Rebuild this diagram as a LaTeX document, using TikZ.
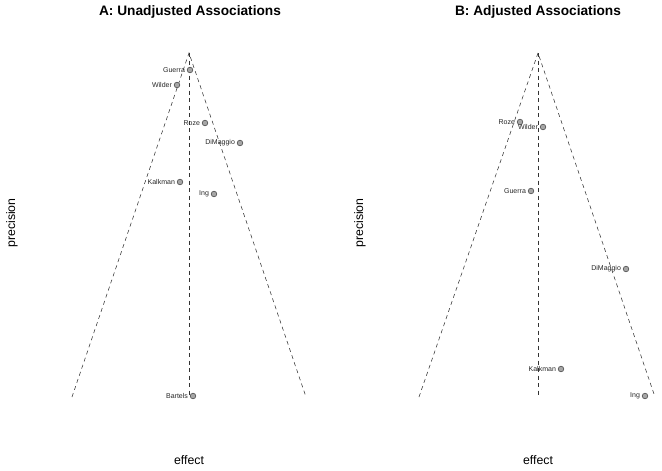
\documentclass[tikz,border=0pt]{standalone}
\usepackage{fontspec}
\setmainfont{Liberation Sans}
\begin{document}
\begin{tikzpicture}[x=1pt,y=-1pt,
  guide/.style={draw=black!80,dash pattern=on 4pt off 3.5pt,line width=0.55pt},
  study/.style={circle,draw=black!70,fill=black!35,line width=0.6pt,inner sep=0pt,minimum size=5.6pt},
  lbl/.style={font=\fontsize{7}{8}\selectfont,text=black!85,inner sep=1.8pt,anchor=east},
  ttl/.style={font=\fontsize{13.7}{16}\selectfont\bfseries},
  axl/.style={font=\fontsize{12.3}{14}\selectfont}]
\useasboundingbox (0,0) rectangle (662,471);
% titles
\node[ttl] (tA) at (190,12) {A: Unadjusted Associations};
\node[ttl] (tB) at (538,12) {B: Adjusted Associations};
\node[axl,rotate=90] (yA) at (12,223) {precision};
\node[axl,rotate=90] (yB) at (360,223) {precision};
\node[axl] (xA) at (189,460) {effect};
\node[axl] (xB) at (538,460) {effect};
% panel A funnel
\coordinate (apA) at (189,53);
\coordinate (lA) at (72,397);
\coordinate (rA) at (306,397);
\coordinate (cA) at (189,397);
\draw[guide] (lA) -- (apA) -- (rA);
\draw[guide] (apA) -- (cA);
% panel B funnel
\coordinate (apB) at (538,53);
\coordinate (lB) at (419,397);
\coordinate (rB) at (655,397);
\coordinate (cB) at (538,397);
\draw[guide] (lB) -- (apB) -- (rB);
\draw[guide] (apB) -- (cB);
% panel A studies
\node[study] (aGuerra) at (190,70) {};
\node[lbl] at (aGuerra.west) {Guerra};
\node[study] (aWilder) at (177,85) {};
\node[lbl] at (aWilder.west) {Wilder};
\node[study] (aRoze) at (205,123) {};
\node[lbl] at (aRoze.west) {Roze};
\node[study] (aDiMaggio) at (240,143) {};
\node[lbl] at (aDiMaggio.west) {DiMaggio};
\node[study] (aKalkman) at (180,182) {};
\node[lbl] at (aKalkman.west) {Kalkman};
\node[study] (aIng) at (214,194) {};
\node[lbl] at (aIng.west) {Ing};
\node[study] (aBartels) at (193,396) {};
\node[lbl] at (aBartels.west) {Bartels};
% panel B studies
\node[study] (bRoze) at (520,122) {};
\node[lbl] at (bRoze.west) {Roze};
\node[study] (bWilder) at (543,127) {};
\node[lbl] at (bWilder.west) {Wilder};
\node[study] (bGuerra) at (531,191) {};
\node[lbl] at (bGuerra.west) {Guerra};
\node[study] (bDiMaggio) at (626,269) {};
\node[lbl] at (bDiMaggio.west) {DiMaggio};
\node[study] (bKalkman) at (561,369) {};
\node[lbl] at (bKalkman.west) {Kalkman};
\node[study] (bIng) at (645,396) {};
\node[lbl] at (bIng.west) {Ing};
\end{tikzpicture}
\end{document}
